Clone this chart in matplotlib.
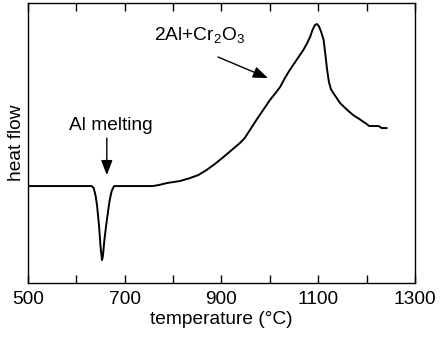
import matplotlib
matplotlib.use("Agg")
import matplotlib.pyplot as plt

plt.rcParams['font.family'] = ['Liberation Sans', 'DejaVu Sans']
plt.rcParams['mathtext.fontset'] = 'custom'
plt.rcParams['mathtext.rm'] = 'Liberation Sans'
plt.rcParams['mathtext.it'] = 'Liberation Sans'
plt.rcParams['mathtext.default'] = 'regular'

temperature = [500, 600, 632, 636, 640, 643, 647, 650, 653, 655, 658, 662, 666, 669,
               673, 678, 700, 758, 770, 787, 800, 814, 835, 852, 869, 886, 904, 921,
               938, 948, 960, 972, 986, 1000, 1010, 1021, 1031, 1041, 1055, 1069, 1076,
               1083, 1088, 1093, 1097, 1101, 1106, 1111, 1115, 1118, 1122, 1126, 1131,
               1138, 1145, 1160, 1172, 1188, 1200, 1205, 1215, 1225, 1231, 1241]
heat_flow = [0, 0, 0, -2, -10, -20, -40, -60, -74, -70, -54, -38, -24, -14,
             -5, 0, 0, 0, 1, 3, 4, 5, 8, 11, 16, 22, 29, 36,
             43, 48, 57, 66, 76, 86, 92, 99, 108, 116, 126, 136, 142,
             149, 156, 161, 162, 160, 154, 146, 130, 117, 104, 97, 93,
             88, 83, 76, 71, 66, 62, 60, 60, 60, 58, 58]

xticks = [500, 700, 900, 1100, 1300]
minor_xticks = [600, 800, 1000, 1200]

FS = 13.8
fig = plt.figure(figsize=(4.43, 3.37), dpi=100)
ax = fig.add_axes([0.063, 0.160, 0.874, 0.831])
ax.plot(temperature, heat_flow, color='black', lw=1.4)
ax.set_xlim(500, 1300)
ax.set_ylim(-97, 183)
ax.set_xticks(xticks)
ax.set_xticks(minor_xticks, minor=True)
ax.set_yticks([])
ax.tick_params(axis='x', which='both', direction='in', length=6, width=1,
               top=True, labelsize=FS, pad=6)
for s in ax.spines.values():
    s.set_linewidth(1.0)
ax.set_xlabel('temperature (°C)', fontsize=FS, labelpad=2)
ax.set_ylabel('heat flow', fontsize=FS, labelpad=2)

ax.annotate('', xy=(663, 11), xytext=(663, 48),
            arrowprops=dict(arrowstyle='-|>,head_length=0.9,head_width=0.35',
                            color='black', lw=1.0, shrinkA=0, shrinkB=0))
ax.text(672, 61, 'Al melting', fontsize=FS, ha='center', va='center')

ax.annotate('', xy=(996, 108), xytext=(893, 129),
            arrowprops=dict(arrowstyle='-|>,head_length=0.9,head_width=0.35',
                            color='black', lw=1.0, shrinkA=0, shrinkB=0))
ax.text(855, 146, r'2Al+Cr$_2$O$_3$', fontsize=FS, ha='center', va='baseline')

fig.savefig('out.png', dpi=100)
